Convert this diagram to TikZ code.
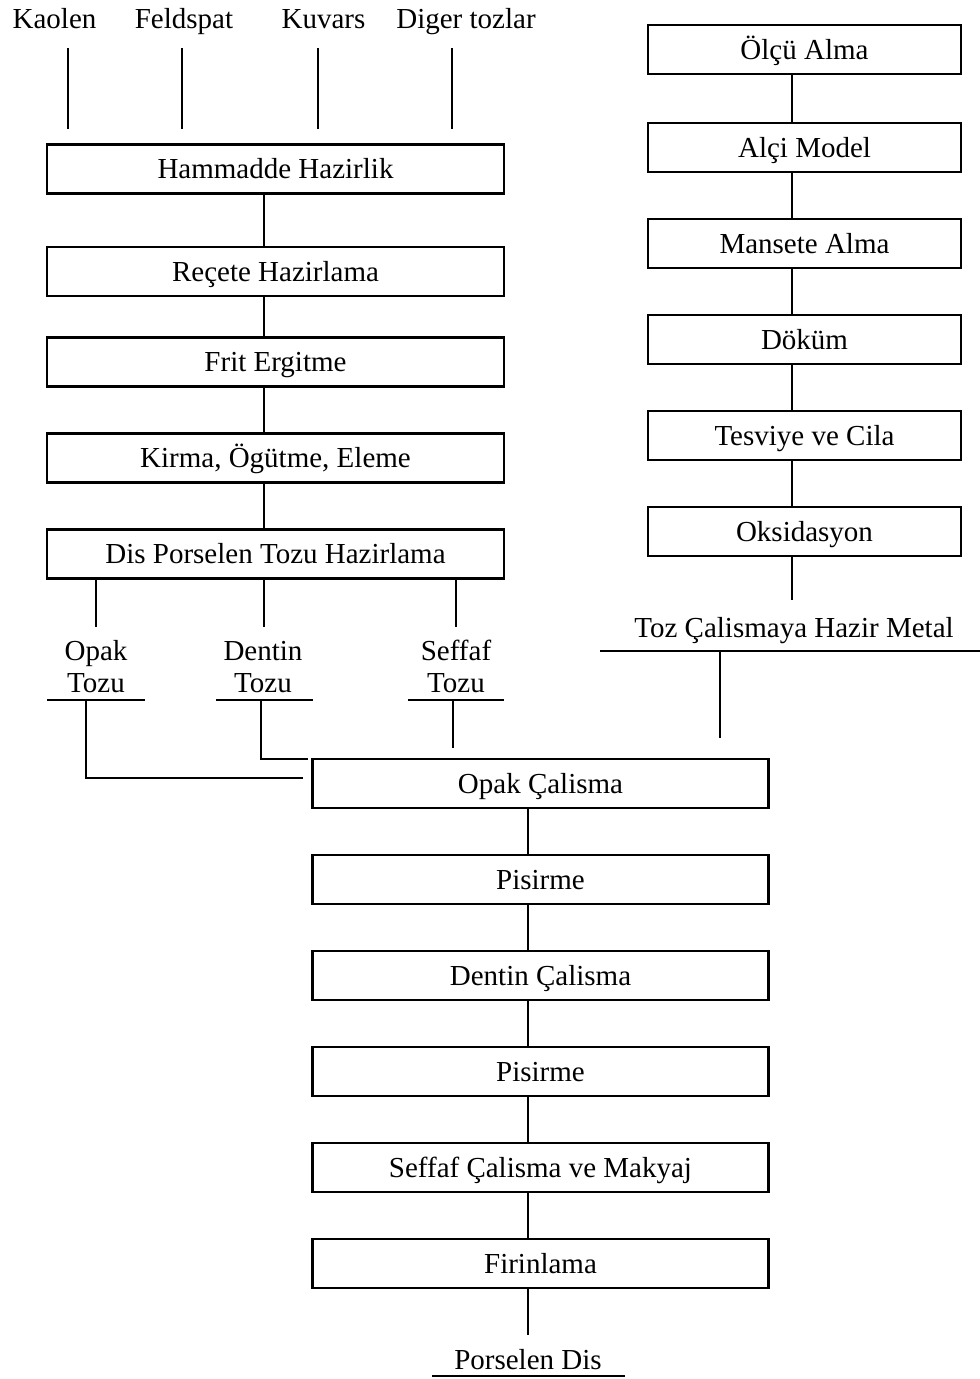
\documentclass[tikz,border=0pt]{standalone}
\usepackage{fontspec}
\setmainfont{Liberation Serif}
\begin{document}
\begin{tikzpicture}[x=1pt,y=-1pt,
  box/.style={draw, line width=2.4pt, inner sep=0pt, outer sep=0pt, text height=19pt, text depth=0pt},
  lbox/.style={box, minimum width=457pt, minimum height=49pt},
  rbox/.style={box, minimum width=313pt, minimum height=49pt},
  bbox/.style={box, minimum width=456pt, minimum height=49pt},
  lbl/.style={anchor=base, inner sep=0pt},
  ln/.style={line width=2pt}]
\useasboundingbox (0,0) rectangle (980,1379);
\fontsize{29}{32}\selectfont
% top labels
\node[lbl] (kaolen) at (54.5,28) {Kaolen};
\node[lbl] (feld) at (184,28) {Feldspat};
\node[lbl] (kuv) at (323.5,28) {Kuvars};
\node[lbl] (dig) at (466,28) {Diger tozlar};
\coordinate (k1) at (68,48);  \coordinate (k2) at (68,129);
\coordinate (f1) at (182,48); \coordinate (f2) at (182,129);
\coordinate (q1) at (318,48); \coordinate (q2) at (318,129);
\coordinate (d1) at (452,48); \coordinate (d2) at (452,129);
\draw[ln] (k1) -- (k2);
\draw[ln] (f1) -- (f2);
\draw[ln] (q1) -- (q2);
\draw[ln] (d1) -- (d2);
% left chain
\coordinate (lx) at (264,0);
\node[lbox] (ham) at (275.5,169) {Hammadde Hazirlik};
\node[lbox] (rec) at (275.5,271.5) {Reçete Hazirlama};
\node[lbox] (frit) at (275.5,362) {Frit Ergitme};
\node[lbox] (kir) at (275.5,458) {Kirma, Ögütme, Eleme};
\node[lbox] (dis) at (275.5,554) {Dis Porselen Tozu Hazirlama};
\draw[ln] (ham.south -| lx) -- (rec.north -| lx);
\draw[ln] (rec.south -| lx) -- (frit.north -| lx);
\draw[ln] (frit.south -| lx) -- (kir.north -| lx);
\draw[ln] (kir.south -| lx) -- (dis.north -| lx);
% branches
\coordinate (bo) at (96,627);
\coordinate (bd) at (264,627);
\coordinate (bs) at (456,627);
\draw[ln] (dis.south -| bo) -- (bo);
\draw[ln] (dis.south -| bd) -- (bd);
\draw[ln] (dis.south -| bs) -- (bs);
\node[lbl] (op1) at (96,660) {Opak};
\node[lbl] (op2) at (96,692) {Tozu};
\node[lbl] (de1) at (263,660) {Dentin};
\node[lbl] (de2) at (263,692) {Tozu};
\node[lbl] (se1) at (456,660) {Seffaf};
\node[lbl] (se2) at (456,692) {Tozu};
\coordinate (uo1) at (47,700);  \coordinate (uo2) at (145,700);
\coordinate (ud1) at (216,700); \coordinate (ud2) at (313,700);
\coordinate (us1) at (408,700); \coordinate (us2) at (504,700);
\draw[ln] (uo1) -- (uo2);
\draw[ln] (ud1) -- (ud2);
\draw[ln] (us1) -- (us2);
\coordinate (po1) at (86,700);  \coordinate (po2) at (303,778);
\coordinate (pd1) at (261,700); \coordinate (pd2) at (308,759);
\coordinate (ps1) at (453,700); \coordinate (ps2) at (453,748);
\draw[ln] (po1) |- (po2);
\draw[ln] (pd1) |- (pd2);
\draw[ln] (ps1) -- (ps2);
% right chain
\coordinate (rx) at (792,0);
\node[rbox] (olc) at (804.5,49.5) {Ölçü Alma};
\node[rbox] (alc) at (804.5,147.5) {Alçi Model};
\node[rbox] (man) at (804.5,243.5) {Mansete Alma};
\node[rbox] (dok) at (804.5,339.5) {Döküm};
\node[rbox] (tes) at (804.5,435.5) {Tesviye ve Cila};
\node[rbox] (oks) at (804.5,531.5) {Oksidasyon};
\draw[ln] (olc.south -| rx) -- (alc.north -| rx);
\draw[ln] (alc.south -| rx) -- (man.north -| rx);
\draw[ln] (man.south -| rx) -- (dok.north -| rx);
\draw[ln] (dok.south -| rx) -- (tes.north -| rx);
\draw[ln] (tes.south -| rx) -- (oks.north -| rx);
\coordinate (oe) at (792,600);
\draw[ln] (oks.south -| rx) -- (oe);
\node[lbl] (toz) at (794,637) {Toz Çalismaya Hazir Metal};
\coordinate (tu1) at (600,651); \coordinate (tu2) at (980,651);
\draw[ln] (tu1) -- (tu2);
\coordinate (tv1) at (720,651); \coordinate (tv2) at (720,738);
\draw[ln] (tv1) -- (tv2);
% bottom chain
\coordinate (bx) at (528,0);
\node[bbox] (opc) at (540.5,783.5) {Opak Çalisma};
\node[bbox] (pis1) at (540.5,879.5) {Pisirme};
\node[bbox] (dec) at (540.5,975.5) {Dentin Çalisma};
\node[bbox] (pis2) at (540.5,1071.5) {Pisirme};
\node[bbox] (sec) at (540.5,1167.5) {Seffaf Çalisma ve Makyaj};
\node[bbox] (fir) at (540.5,1263.5) {Firinlama};
\draw[ln] (opc.south -| bx) -- (pis1.north -| bx);
\draw[ln] (pis1.south -| bx) -- (dec.north -| bx);
\draw[ln] (dec.south -| bx) -- (pis2.north -| bx);
\draw[ln] (pis2.south -| bx) -- (sec.north -| bx);
\draw[ln] (sec.south -| bx) -- (fir.north -| bx);
\coordinate (fe) at (528,1335);
\draw[ln] (fir.south -| bx) -- (fe);
\node[lbl] (pd) at (528,1369) {Porselen Dis};
\coordinate (pu1) at (432,1376); \coordinate (pu2) at (625,1376);
\draw[ln] (pu1) -- (pu2);
\end{tikzpicture}
\end{document}
